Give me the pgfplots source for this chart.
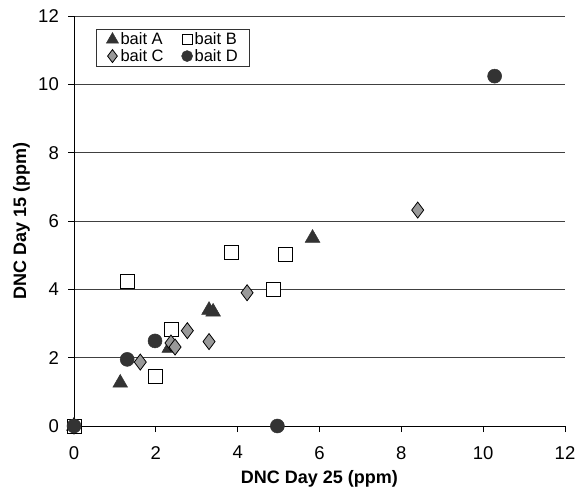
\documentclass[border=0pt]{standalone}
\usepackage{pgfplots}
\pgfplotsset{compat=1.18}
\usepackage{fontspec}
\setmainfont{Liberation Sans}
\definecolor{dk}{HTML}{333333}
\definecolor{gr}{HTML}{999999}
\begin{document}
\begin{tikzpicture}[x=1pt,y=1pt]
\path[use as bounding box] (-74,-72) rectangle (509,426);
\begin{axis}[
  at={(0,0)}, anchor=south west,
  scale only axis, width=491pt, height=410pt,
  xmin=0, xmax=12, ymin=0, ymax=12,
  xtick={0,2,...,12}, ytick={0,2,...,12},
  axis x line*=bottom, axis y line*=left,
  axis line style={black, line width=0.8pt, -},
  tick align=outside, major tick length=6pt,
  tick style={black, line width=0.8pt},
  ymajorgrids, grid style={black!75, line width=0.8pt},
  clip=false,
  /pgf/number format/assume math mode=true,
  ticklabel style={font=\fontsize{18.5}{21}\selectfont},
  yticklabel style={inner sep=0pt, xshift=-9pt},
  xticklabel style={inner sep=0pt, yshift=-14pt},
  xlabel={DNC Day 25 (ppm)}, ylabel={DNC Day 15 (ppm)},
  label style={font=\fontsize{18}{21}\selectfont\bfseries},
  xlabel style={at={(axis description cs:0.5,-0.128)}, anchor=center},
  ylabel style={at={(axis description cs:-0.107,0.5)}, anchor=center},
  legend columns=2,
  legend style={at={(axis description cs:0.0448,0.9683)}, anchor=north west,
    draw=black!80, line width=0.8pt, fill=white,
    font=\fontsize{16.5}{19}\selectfont, inner xsep=10pt, inner ysep=1.5pt,
    row sep=-1pt,
    /tikz/every even column/.append style={column sep=16pt}},
  legend cell align=left,
]
\addplot[only marks, mark=triangle*, mark size=8.5pt, draw=dk, fill=dk, mark options={line width=0.5pt},
  legend image post style={mark size=7pt}]
  coordinates {(0,0) (1.13,1.26) (2.33,2.28) (3.30,3.39) (3.40,3.34) (5.83,5.50)};
\addlegendentry{bait A}
\addplot[only marks, mark=square*, mark size=7pt, draw=black, fill=white, mark options={line width=0.9pt},
  legend image post style={mark size=5pt}]
  coordinates {(0,0) (1.30,4.24) (1.98,1.46) (2.37,2.84) (3.84,5.09) (4.87,4.01) (5.17,5.03)};
\addlegendentry{bait B}
\addplot[only marks, mark=diamond*, mark size=8pt, draw=black, fill=gr, mark options={line width=0.8pt},
  legend image post style={mark size=6.5pt}]
  coordinates {(0,0) (1.62,1.87) (2.37,2.43) (2.47,2.31) (2.77,2.79) (3.30,2.47) (4.23,3.90) (8.40,6.32)};
\addlegendentry{bait C}
\addplot[only marks, mark=*, mark size=7pt, draw=dk, fill=dk, mark options={line width=0.5pt},
  legend image post style={mark size=5.5pt}]
  coordinates {(0,0) (1.30,1.95) (1.98,2.49) (4.97,0) (10.28,10.24)};
\addlegendentry{bait D}
\end{axis}
\end{tikzpicture}
\end{document}
